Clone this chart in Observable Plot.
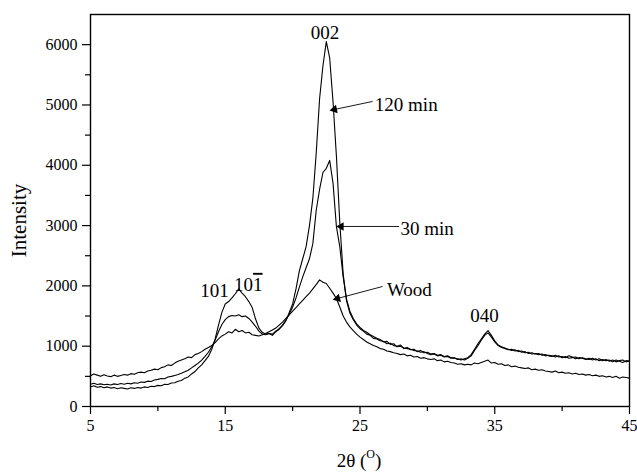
<!DOCTYPE html>
<html><head><meta charset="utf-8">
<script src="https://cdn.jsdelivr.net/npm/d3@7"></script>
<script src="https://cdn.jsdelivr.net/npm/@observablehq/plot@0.6"></script>
<style>body{margin:0;background:#fff}</style>
</head><body><div id="chart"></div>
<script>
const twoTheta = [
5,5.25,5.5,5.75,6,6.25,6.5,6.75,7,7.25,7.5,7.75,8,8.25,8.5,8.75,
9,9.25,9.5,9.75,10,10.25,10.5,10.75,11,11.25,11.5,11.75,12,12.25,12.5,12.75,
13,13.25,13.5,13.75,14,14.25,14.5,14.75,15,15.25,15.5,15.75,16,16.25,16.5,16.75,
17,17.25,17.5,17.75,18,18.25,18.5,18.75,19,19.25,19.5,19.75,20,20.25,20.5,20.75,
21,21.25,21.5,21.75,22,22.25,22.5,22.75,23,23.25,23.5,23.75,24,24.25,24.5,24.75,
25,25.25,25.5,25.75,26,26.25,26.5,26.75,27,27.25,27.5,27.75,28,28.25,28.5,28.75,
29,29.25,29.5,29.75,30,30.25,30.5,30.75,31,31.25,31.5,31.75,32,32.25,32.5,32.75,
33,33.25,33.5,33.75,34,34.25,34.5,34.75,35,35.25,35.5,35.75,36,36.25,36.5,36.75,
37,37.25,37.5,37.75,38,38.25,38.5,38.75,39,39.25,39.5,39.75,40,40.25,40.5,40.75,
41,41.25,41.5,41.75,42,42.25,42.5,42.75,43,43.25,43.5,43.75,44,44.25,44.5,44.75,
45];
const min120 = [
325,345,320,330,310,325,305,315,295,310,300,290,310,300,315,305,
325,315,335,330,350,345,370,365,390,395,420,430,470,490,540,580,
640,690,760,830,950,1120,1350,1560,1700,1740,1800,1870,1950,1880,1820,1740,
1640,1450,1300,1230,1200,1210,1180,1240,1280,1340,1420,1560,1700,1950,2250,2450,
2650,3000,3450,4200,5100,5650,6050,5780,5050,4150,3050,2200,1750,1550,1440,1350,
1290,1250,1200,1180,1130,1120,1090,1080,1040,1050,1010,1000,1020,960,980,940,
950,910,930,890,900,870,880,850,860,830,840,810,800,790,770,790,
810,860,950,1040,1120,1200,1260,1180,1090,1020,990,970,940,950,920,930,
900,910,880,890,870,880,850,860,840,830,850,820,830,810,840,820,
790,810,800,780,800,770,790,760,780,760,770,740,770,750,730,760,
750];
const min30 = [
370,385,365,375,360,370,355,375,365,380,370,385,375,395,385,405,
400,420,415,440,450,465,460,490,500,515,530,550,575,600,640,680,
720,770,830,900,990,1100,1240,1360,1440,1490,1510,1500,1520,1490,1500,1460,
1400,1330,1250,1200,1190,1210,1200,1250,1290,1350,1430,1530,1650,1800,1980,2150,
2300,2450,2700,3250,3600,3880,3950,4080,3700,2980,2650,2150,1780,1580,1460,1370,
1310,1260,1230,1190,1160,1130,1110,1070,1080,1030,1040,990,1000,970,960,950,
930,920,900,910,880,860,870,840,850,820,830,800,810,780,790,770,
800,840,930,1010,1100,1180,1220,1150,1070,1010,980,960,950,930,940,910,
920,890,900,870,880,860,870,840,850,840,820,840,810,830,800,810,
820,790,810,790,780,800,770,790,760,780,750,770,740,760,770,740,
760];
const wood = [
510,540,520,500,525,505,495,520,500,515,530,520,545,535,560,570,
560,590,600,620,610,645,660,690,680,720,750,770,790,820,810,860,
880,910,950,980,1010,1060,1120,1170,1200,1240,1220,1280,1240,1260,1220,1230,
1190,1180,1170,1190,1210,1240,1270,1300,1350,1400,1460,1520,1580,1640,1700,1760,
1820,1880,1950,2020,2100,2060,2040,1960,1880,1790,1650,1500,1400,1320,1260,1200,
1150,1110,1070,1040,1010,990,960,950,920,910,890,880,860,870,840,850,
820,830,800,810,790,780,790,760,770,740,750,730,720,700,710,690,
700,690,720,710,730,750,770,720,730,700,710,680,690,660,670,650,
640,630,640,610,620,600,610,590,580,570,590,560,570,550,560,540,
550,530,540,520,530,510,520,500,510,490,500,480,500,470,490,480,
470];
const seriesNames = ["120 min", "30 min", "Wood"];
const xMajorTicks = [5, 15, 25, 35, 45];
const xMinorTicks = [10, 20, 30, 40];
const yMajorTicks = [0, 1000, 2000, 3000, 4000, 5000, 6000];
const yMinorTicks = [500, 1500, 2500, 3500, 4500, 5500];
const peakNames = ["002", "101", "101", "040"];
const yTitle = "Intensity";

const seriesValues = [min120, min30, wood];
const rows = [];
seriesValues.forEach((vals, k) => twoTheta.forEach((x, i) => rows.push({x, y: vals[i], s: seriesNames[k]})));

const F = "Liberation Serif";
const W = 637, H = 472, ML = 90, MR = 8, MT = 14, MB = 66;
const sx = Plot.scale({x: {domain: [5, 45], range: [ML, W - MR]}});
const sy = Plot.scale({y: {domain: [0, 6500], range: [H - MB, MT]}});

const peakText = [
  {t: peakNames[0], x: 22.4, y: 6190},
  {t: peakNames[1], x: 14.2, y: 1924},
  {t: peakNames[3], x: 34.24, y: 1509}
];
const curveText = [
  {t: seriesNames[0], x: 26.1, y: 5008},
  {t: seriesNames[1], x: 28.0, y: 2950},
  {t: seriesNames[2], x: 27.0, y: 1930}
];
const arrows = [
  {x1: 25.93, y1: 5058, x2: 23.1, y2: 4925},
  {x1: 27.9, y1: 2985, x2: 23.6, y2: 2985},
  {x1: 26.67, y1: 1990, x2: 23.33, y2: 1791}
].map(a => {
  const dx = sx.apply(a.x2) - sx.apply(a.x1), dy = sy.apply(a.y2) - sy.apply(a.y1);
  return {...a, r: Math.atan2(dx, -dy) * 180 / Math.PI};
});

const chart = Plot.plot({
  width: W, height: H,
  marginLeft: ML, marginRight: MR, marginTop: MT, marginBottom: MB,
  style: {fontFamily: F, fontSize: "16px", background: "white", color: "black"},
  x: {domain: [5, 45]},
  y: {domain: [0, 6500]},
  marks: [
    Plot.axisX({ticks: xMajorTicks, tickSize: 8, tickFormat: () => "", label: null, strokeWidth: 1.2}),
    Plot.axisX({ticks: xMinorTicks, tickSize: 5, tickFormat: () => "", label: null, strokeWidth: 1.2}),
    Plot.axisY({ticks: yMajorTicks, tickSize: 8, tickFormat: () => "", label: null, strokeWidth: 1.2}),
    Plot.axisY({ticks: yMinorTicks, tickSize: 5, tickFormat: () => "", label: null, strokeWidth: 1.2}),
    Plot.text(xMajorTicks, {x: d => d, frameAnchor: "bottom", lineAnchor: "top", dy: 13, text: d => String(d), fontSize: 16, fontFamily: F, fill: "black"}),
    Plot.text(yMajorTicks, {y: d => d, frameAnchor: "left", textAnchor: "end", dx: -13, text: d => String(d), fontSize: 16, fontFamily: F, fill: "black"}),
    Plot.line(rows, {x: "x", y: "y", z: "s", stroke: "black", strokeWidth: 1.1}),
    Plot.frame({stroke: "black", strokeWidth: 1.4}),
    Plot.link(arrows, {x1: "x1", y1: "y1", x2: "x2", y2: "y2", stroke: "black", strokeWidth: 0.9}),
    Plot.dot(arrows, {x: "x2", y: "y2", symbol: "triangle", r: 3.2, rotate: "r", fill: "black", stroke: "none"}),
    Plot.text(peakText, {x: "x", y: "y", text: "t", fontSize: 19, fontFamily: F, fill: "black"}),
    Plot.text(curveText, {x: "x", y: "y", text: "t", fontSize: 19, fontFamily: F, fill: "black", textAnchor: "start"}),
    Plot.text([yTitle], {frameAnchor: "left", textAnchor: "middle", dx: -71, dy: 10, rotate: -90, text: d => d, fontSize: 21, fontFamily: F, fill: "black"})
  ]
});
document.getElementById("chart").appendChild(chart);

const svg = d3.select(chart);
const bar = svg.append("text")
  .attr("x", sx.apply(16.75)).attr("y", sy.apply(2010))
  .attr("text-anchor", "middle").attr("dy", "0.32em")
  .style("font-family", F).attr("font-size", 19).attr("fill", "black");
bar.append("tspan").text(peakNames[2].slice(0, 2));
bar.append("tspan").style("text-decoration", "overline").text(peakNames[2].slice(2));

const xl = svg.append("text")
  .attr("x", 359).attr("y", 467)
  .attr("text-anchor", "middle")
  .style("font-family", F).attr("font-size", 19).attr("fill", "black");
xl.append("tspan").text("2\u03b8 (");
xl.append("tspan").attr("font-size", 12).attr("dy", -9).text("O");
xl.append("tspan").attr("dy", 9).text(")");
</script>
</body></html>
